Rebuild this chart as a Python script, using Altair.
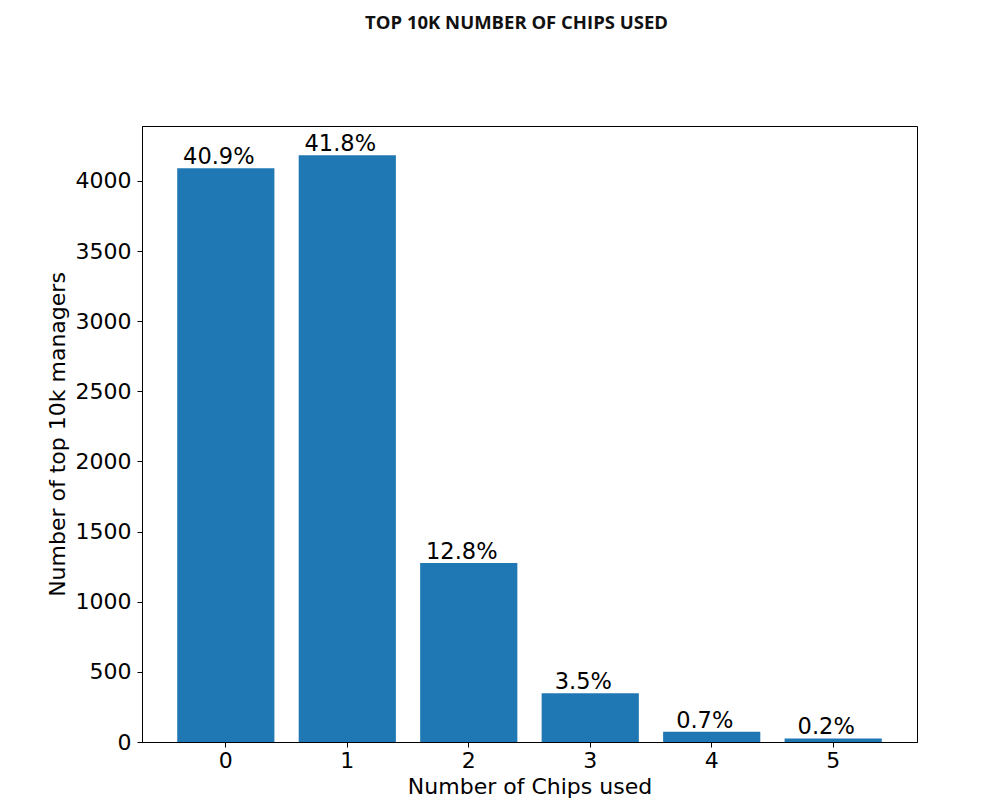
import altair as alt
import pandas as pd

# number of chips used by the top 10k managers
chips = ['0', '1', '2', '3', '4', '5']
managers = [4091, 4183, 1276, 347, 73, 25]
pct_labels = ['40.9%', '41.8%', '12.8%', '3.5%', '0.7%', '0.2%']
y_ticks = [0, 500, 1000, 1500, 2000, 2500, 3000, 3500, 4000]

df = pd.DataFrame({'chips': chips, 'managers': managers, 'pct': pct_labels})

base = alt.Chart(df).encode(
    x=alt.X('chips:O',
            scale=alt.Scale(paddingInner=0.2, paddingOuter=0.29),
            axis=alt.Axis(title='Number of Chips used', labelAngle=0,
                          labelPadding=3, titlePadding=5)),
    y=alt.Y('managers:Q',
            scale=alt.Scale(domain=[0, 4392], nice=False),
            axis=alt.Axis(title='Number of top 10k managers', values=y_ticks,
                          format='d', grid=False, labelPadding=6, titlePadding=6))
)

bars = base.mark_bar(color='#1f77b4')

# percentage labels sit a bit left of the bar centre, like the original
labels = base.mark_text(baseline='alphabetic', dy=-4, dx=-7, fontSize=22.5,
                        font='DejaVu Sans', color='black').encode(text='pct:N')

chart = (bars + labels).properties(
    width=775,
    height=616,
    autosize=alt.AutoSizeParams(type='none'),
    padding={'left': 134, 'top': 118, 'right': 70, 'bottom': 62},
    title=alt.Title('TOP 10K NUMBER OF CHIPS USED', font='Open Sans', fontSize=18.5,
                    fontWeight='bold', color='#111111', offset=94, dx=-13),
).configure_view(
    stroke='black', strokeWidth=1
).configure_axis(
    labelFont='DejaVu Sans', titleFont='DejaVu Sans',
    labelFontSize=22, titleFontSize=22, titleFontWeight='normal',
    labelColor='black', titleColor='black',
    domainColor='black', tickColor='black', tickSize=5
)

chart.save("out.html", embed_options={"renderer": "svg", "actions": False})
